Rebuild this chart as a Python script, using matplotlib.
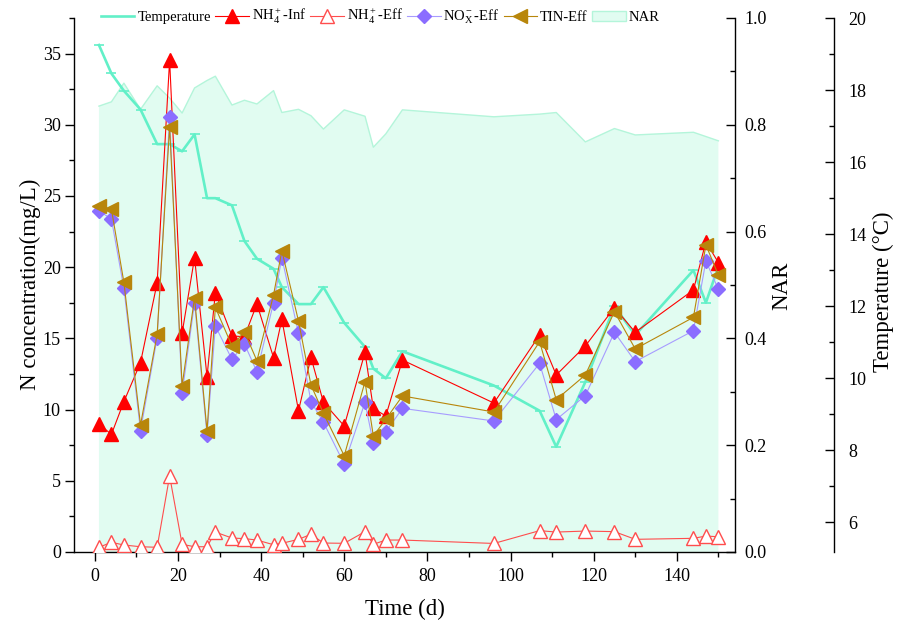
import matplotlib
matplotlib.use('Agg')
import matplotlib.pyplot as plt
from matplotlib.ticker import MultipleLocator, FixedLocator, FormatStrFormatter
from matplotlib.patches import Patch
from matplotlib.lines import Line2D

# ---------------- data ----------------
days = [1, 4, 7, 11, 15, 18, 21, 24, 27, 29, 33, 36, 39, 43, 45, 49, 52, 55,
        60, 65, 67, 70, 74, 96, 107, 111, 118, 125, 130, 144, 147, 150]

temperature = [19.25, 18.46, 17.98, 17.46, 16.5, 16.5, 16.3, 16.77, 15.0, 15.0,
               14.8, 13.81, 13.32, 13.04, 12.53, 12.06, 12.06, 12.53, 11.54,
               10.87, 10.27, 10.0, 10.75, 9.8, 9.1, 8.1, 9.9, 12.0, 11.2,
               13.0, 12.1, 13.1]

nar = [0.835, 0.843, 0.878, 0.829, 0.873, 0.85, 0.822, 0.869, 0.883, 0.891,
       0.837, 0.846, 0.839, 0.864, 0.823, 0.829, 0.817, 0.792, 0.828, 0.816,
       0.758, 0.783, 0.828, 0.815, 0.82, 0.823, 0.768, 0.793, 0.781, 0.786,
       0.778, 0.770]

nh4_inf = [8.99, 8.26, 10.56, 13.3, 18.9, 34.55, 15.36, 20.67, 12.31, 18.21,
           15.17, 15.12, 17.42, 13.65, 16.34, 9.92, 13.67, 10.51, 8.85, 14.02,
           10.09, 9.55, 13.48, 10.46, 15.24, 12.43, 14.47, 17.16, 15.43, 18.4,
           21.79, 20.32]

nh4_eff = [0.33, 0.68, 0.49, 0.37, 0.33, 5.34, 0.54, 0.37, 0.37, 1.40, 0.98,
           0.94, 0.84, 0.51, 0.61, 0.89, 1.24, 0.63, 0.61, 1.43, 0.54, 0.84,
           0.84, 0.6, 1.5, 1.4, 1.47, 1.43, 0.89, 0.96, 1.12, 1.07]

nox_eff = [23.95, 23.39, 18.52, 8.52, 15.05, 30.53, 11.14, 17.51, 8.22, 15.87,
           13.53, 14.61, 12.66, 17.51, 20.67, 15.36, 10.56, 9.11, 6.18, 10.51,
           7.63, 8.43, 10.09, 9.2, 13.25, 9.3, 10.98, 15.43, 13.37, 15.54,
           20.44, 18.45]

tin_eff = [24.32, 24.07, 18.94, 8.92, 15.29, 29.87, 11.68, 17.86, 8.5, 17.18,
           14.47, 15.47, 13.43, 18.05, 21.16, 16.22, 11.73, 9.74, 6.76, 11.96,
           8.15, 9.32, 10.96, 9.83, 14.77, 10.7, 12.43, 16.88, 14.26, 16.48,
           21.56, 19.45]

temp_ticks = [6, 8, 10, 12, 14, 16, 18, 20]

# ---------------- style ----------------
plt.rcParams['font.family'] = ['Liberation Serif', 'DejaVu Serif']
plt.rcParams['mathtext.fontset'] = 'custom'
plt.rcParams['mathtext.rm'] = 'Liberation Serif'
plt.rcParams['mathtext.it'] = 'Liberation Serif:italic'
plt.rcParams['axes.linewidth'] = 1.0

c_temp = '#62F0C8'
c_nar_fill = '#E1FCF1'
c_nar_edge = '#B4F5DA'
c_inf = '#FF0000'
c_eff = '#FF4D4D'
c_nox = '#8B6DFF'
c_nox_line = '#A79CFF'
c_tin = '#B8860B'

W, H = 905, 626
fig = plt.figure(figsize=(W / 100, H / 100), dpi=100)
L, R, B, T = 74, 735, 552, 18
ax = fig.add_axes([L / W, 1 - B / H, (R - L) / W, (B - T) / H])
ax2 = ax.twinx()   # NAR
ax3 = ax.twinx()   # Temperature

ax2.set_zorder(1)
ax3.set_zorder(2)
ax.set_zorder(3)
ax.patch.set_visible(False)
ax3.patch.set_visible(False)
ax2.patch.set_visible(True)
ax2.patch.set_facecolor('white')

# NAR fill
ax2.fill_between(days, nar, 0, facecolor=c_nar_fill, edgecolor='none')
ax2.plot(days, nar, color=c_nar_edge, lw=1.0)

# Temperature
ax3.plot(days, temperature, color=c_temp, lw=1.9, marker='_', ms=7, mew=1.2)

# N series
ax.plot(days, nh4_inf, color=c_inf, lw=0.8, marker='^', ms=9.5,
        mfc=c_inf, mec=c_inf, zorder=4)
ax.plot(days, nh4_eff, color=c_eff, lw=0.8, marker='^', ms=9.5,
        mfc='white', mec=c_eff, mew=1.0, zorder=3)
ax.plot(days, nox_eff, color=c_nox_line, lw=0.8, marker='D', ms=7,
        mfc=c_nox, mec=c_nox, zorder=4)
ax.plot(days, tin_eff, color=c_tin, lw=0.8, marker='<', ms=9.5,
        mfc=c_tin, mec=c_tin, zorder=5)

# ---------------- axes ----------------
ax.set_xlim(-5, 154)
ax.set_ylim(0, 37.5)
ax2.set_ylim(0, 1.0)
ax3.set_ylim(5.18, 20)

for a in (ax, ax2, ax3):
    a.spines['top'].set_visible(False)
ax.spines['right'].set_visible(False)
for s in ('left', 'bottom'):
    ax2.spines[s].set_visible(False)
    ax3.spines[s].set_visible(False)
ax3.spines['right'].set_position(('axes', 1.15))

ax.xaxis.set_major_locator(MultipleLocator(20))
ax.xaxis.set_minor_locator(MultipleLocator(10))
ax.yaxis.set_major_locator(MultipleLocator(5))
ax.yaxis.set_minor_locator(MultipleLocator(2.5))
ax.tick_params(axis='both', which='major', direction='out', length=6.5,
               width=1, labelsize=13, pad=3)
ax.tick_params(axis='x', which='major', pad=5)
ax.tick_params(axis='both', which='minor', direction='out', length=3.6,
               width=1)
ax.tick_params(axis='y', right=False)

ax2.yaxis.set_major_locator(MultipleLocator(0.2))
ax2.yaxis.set_minor_locator(MultipleLocator(0.1))
ax2.yaxis.set_major_formatter(FormatStrFormatter('%.1f'))
ax2.tick_params(axis='y', which='major', direction='in', length=6.5,
                width=1, labelsize=13, pad=7)
ax2.tick_params(axis='y', which='minor', direction='in', length=3.6, width=1)

ax3.yaxis.set_major_locator(FixedLocator(temp_ticks))
ax3.yaxis.set_minor_locator(MultipleLocator(1))
ax3.tick_params(axis='y', which='major', direction='in', length=6.5,
                width=1, labelsize=13, pad=10)
ax3.tick_params(axis='y', which='minor', direction='in', length=3.6, width=1)

# axis labels
fig.text(30 / W, 1 - 284 / H, 'N concentration(mg/L)', rotation=90,
         ha='center', va='center', fontsize=16.5)
fig.text(405 / W, 1 - 609 / H, 'Time (d)', ha='center', va='center',
         fontsize=16.5)
fig.text(782 / W, 1 - 286 / H, 'NAR', rotation=90, ha='center', va='center',
         fontsize=16.5)
fig.text(883 / W, 1 - 292 / H, 'Temperature (°C)', rotation=90,
         ha='center', va='center', fontsize=16.5)

# legend
handles = [
    Line2D([], [], color=c_temp, lw=1.9),
    Line2D([], [], color=c_inf, lw=0.8, marker='^', ms=9.5, mfc=c_inf, mec=c_inf),
    Line2D([], [], color=c_eff, lw=0.8, marker='^', ms=9.5, mfc='white', mec=c_eff),
    Line2D([], [], color=c_nox_line, lw=0.8, marker='D', ms=7, mfc=c_nox, mec=c_nox),
    Line2D([], [], color=c_tin, lw=0.8, marker='<', ms=9.5, mfc=c_tin, mec=c_tin),
    Patch(facecolor=c_nar_fill, edgecolor=c_nar_edge),
]
labels = ['Temperature', r'NH$_4^+$-Inf', r'NH$_4^+$-Eff',
          r'NO$_\mathrm{X}^-$-Eff', 'TIN-Eff', 'NAR']
leg = fig.legend(handles, labels, loc='center', bbox_to_anchor=(0.420, 0.973),
                 ncol=6, frameon=False, fontsize=10.5, handlelength=2.3,
                 handletextpad=0.2, columnspacing=0.3, borderaxespad=0,
                 numpoints=1)
leg.set_zorder(10)

fig.savefig('out.png', dpi=100)
